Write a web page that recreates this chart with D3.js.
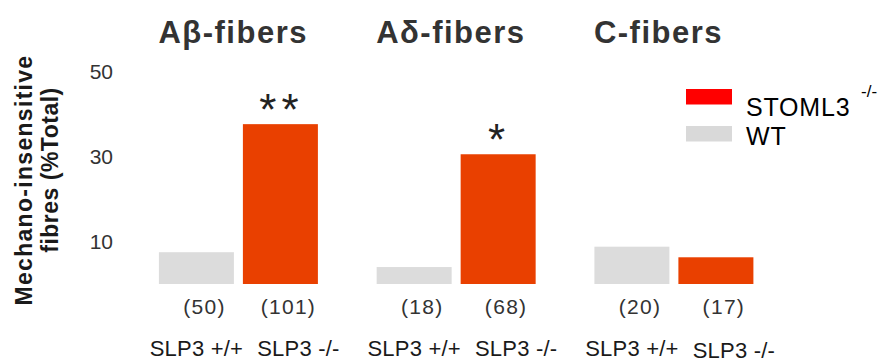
<!DOCTYPE html>
<html>
<head>
<meta charset="utf-8">
<script src="https://cdn.jsdelivr.net/npm/d3@7"></script>
<style>
  html, body { margin: 0; padding: 0; background: #fff; }
  svg { display: block; }
</style>
</head>
<body>
<svg id="chart" width="881" height="361"></svg>
<script>
// ---- data ----
const groups = ["Aβ-fibers", "Aδ-fibers", "C-fibers"];
const genotypes = ["WT", "KO"];
const genotypeLabels = ["SLP3 +/+", "SLP3 -/-"];
const wtValues = [7.5, 4.0, 8.8];
const koValues = [37.7, 30.6, 6.3];
const wtN = [50, 18, 20];
const koN = [101, 68, 17];
const significance = ["**", "*", ""];
const yTicks = [10, 30, 50];
const legendLabels = ["STOML3", "WT"];

// ---- layout ----
const svg = d3.select("#chart");
const colors = { WT: "#dcdcdc", KO: "#e94000" };

const y = d3.scaleLinear().domain([0, 50]).range([284, 72]);
const xg = d3.scalePoint().domain(groups).range([238.4, 673.9]);
const xi = d3.scaleBand().domain(genotypes).range([-79.5, 79.5]).paddingInner(0.107).paddingOuter(0);

const rows = [];
groups.forEach((g, i) => {
  rows.push({ group: g, geno: "WT", value: wtValues[i], n: wtN[i], sig: "", label: genotypeLabels[0] });
  rows.push({ group: g, geno: "KO", value: koValues[i], n: koN[i], sig: significance[i], label: genotypeLabels[1] });
});
const barX = d => xg(d.group) + xi(d.geno);
const barC = d => barX(d) + xi.bandwidth() / 2;

// bars
svg.append("g").selectAll("rect").data(rows).join("rect")
  .attr("x", barX)
  .attr("y", d => y(d.value))
  .attr("width", xi.bandwidth())
  .attr("height", d => y(0) - y(d.value))
  .attr("fill", d => colors[d.geno]);

// y tick labels (no axis line)
const yAxis = d3.axisLeft(y).tickValues(yTicks).tickSize(0).tickPadding(0);
const ag = svg.append("g").attr("transform", "translate(113,0)").call(yAxis);
ag.select(".domain").remove();
ag.selectAll("text")
  .attr("font-family", "'Liberation Sans', Arial, sans-serif")
  .attr("font-size", 21)
  .attr("fill", "#333");

// group titles
svg.append("g").selectAll("text").data(groups).join("text")
  .attr("x", d => xg(d) - 80)
  .attr("y", 42.5)
  .attr("font-family", "'Liberation Sans', Arial, sans-serif")
  .attr("font-weight", "bold")
  .attr("font-size", 31)
  .attr("letter-spacing", 1.5)
  .attr("fill", "#333")
  .text(d => d);

// significance stars
svg.append("g").selectAll("text").data(rows.filter(d => d.sig)).join("text")
  .attr("x", d => barC(d) + 1)
  .attr("y", d => y(d.value) + 1)
  .attr("text-anchor", "middle")
  .attr("font-family", "'Liberation Sans', Arial, sans-serif")
  .attr("font-size", 44)
  .attr("letter-spacing", 5)
  .attr("fill", "#222")
  .text(d => d.sig);

// n labels
svg.append("g").selectAll("text").data(rows).join("text")
  .attr("x", d => barC(d) + 8)
  .attr("y", 314)
  .attr("text-anchor", "middle")
  .attr("font-family", "'Liberation Sans', Arial, sans-serif")
  .attr("font-size", 21)
  .attr("letter-spacing", 1.3)
  .attr("fill", "#333")
  .text(d => "(" + d.n + ")");

// genotype labels
svg.append("g").selectAll("text").data(rows).join("text")
  .attr("x", d => barC(d) + (d.geno === "KO" ? 18 : 0))
  .attr("y", d => 355.5 + (d.geno === "KO" && d.group === groups[2] ? 2 : 0))
  .attr("text-anchor", "middle")
  .attr("font-family", "'Liberation Sans', Arial, sans-serif")
  .attr("font-size", 22)
  .attr("letter-spacing", 0.2)
  .attr("fill", "#1a1a1a")
  .text(d => d.label);

// y axis title (two lines)
const yt = svg.append("g").attr("font-family", "'Liberation Sans', Arial, sans-serif")
  .attr("font-weight", "bold").attr("font-size", 23).attr("fill", "#1a1a1a")
  .attr("text-anchor", "middle");
yt.append("text").attr("transform", "translate(32,180) rotate(-90)")
  .attr("letter-spacing", 1.3).text("Mechano-insensitive");
yt.append("text").attr("transform", "translate(58,170) rotate(-90)")
  .attr("letter-spacing", 0.5).text("fibres (%Total)");

// legend
const legColors = ["#ff0000", "#d9d9d9"];
const legRectY = [89, 126];
const legTextY = [116, 145];
const lg = svg.append("g");
legendLabels.forEach((l, i) => {
  lg.append("rect").attr("x", 686).attr("y", legRectY[i]).attr("width", 46).attr("height", 15.5)
    .attr("fill", legColors[i]);
  lg.append("text").attr("x", 746).attr("y", legTextY[i])
    .attr("font-family", "'Liberation Sans', Arial, sans-serif").attr("font-size", 25)
    .attr("letter-spacing", 0.8).attr("fill", "#000")
    .text(l);
});
lg.append("text").attr("x", 861).attr("y", 97)
  .attr("font-family", "'Liberation Sans', Arial, sans-serif").attr("font-size", 17).attr("fill", "#000")
  .text("-/-");
</script>
</body>
</html>
